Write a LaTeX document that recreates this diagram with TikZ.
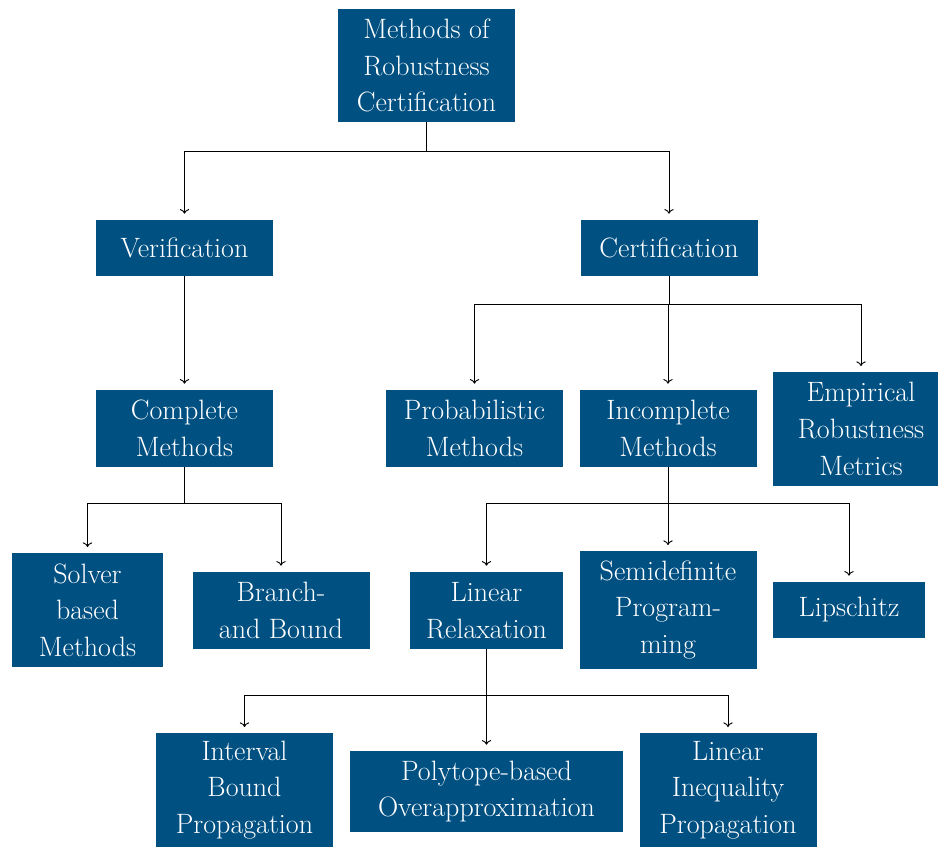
\documentclass[tikz,border=0pt]{standalone}
\usetikzlibrary{arrows.meta,positioning}

\definecolor{boxblue}{RGB}{0,80,130}

\begin{document}
\begin{tikzpicture}[
        x=0.75pt, y=-0.75pt,
        box/.style={fill=boxblue, text=white, align=center, inner sep=3pt,
            font={\fontsize{21}{27.5}\selectfont},
            minimum width=132.75pt, minimum height=42pt},
        twoline/.style={box, minimum height=57.75pt},
        threeline/.style={box, minimum height=85pt},
        fork/.style={-{To[length=3.5pt,width=7pt]}, line width=0.7pt, shorten >=4.5pt}
    ]
            \clip (0,0) rectangle (938,849);

            % levels of the tree
            \node[threeline] (root)       at (426.5,65.5) {Methods of\\Robustness\\Certification};
            \node[box]       (verif)      at (184.5,248)  {Verification};
            \node[box]       (cert)       at (669,248)    {Certification};
            \node[twoline]   (complete)   at (184.5,428.5){Complete\\Methods};
            \node[twoline]   (prob)       at (474.5,428.5){Probabilistic\\Methods};
            \node[twoline]   (incomplete) at (668,428.5)  {Incomplete\\Methods};
            \node[threeline] (empirical)  at (861,429)    {Empirical\\Robustness\\Metrics};
            \node[threeline, minimum width=113.25pt]
                             (solver)     at (87.5,610)   {Solver\\based\\Methods};
            \node[twoline]   (branch)     at (281,610.5)  {Branch-\\and Bound};
            \node[twoline, minimum width=114.75pt]
                             (linear)     at (486.5,610.5){Linear\\Relaxation};
            \node[threeline, minimum height=88pt]
                             (sdp)        at (668,610)    {Semidefinite\\Program-\\ming};
            \node[box, minimum width=114pt]
                             (lipschitz)  at (849,610)    {Lipschitz};
            \node[threeline] (ibp)        at (244.5,790)  {Interval\\Bound\\Propagation};
            \node[twoline, minimum width=204.75pt, minimum height=60.75pt]
                             (polytope)   at (486.5,791.5){Polytope-based\\Overapproximation};
            \node[threeline] (lip)        at (728,790)    {Linear\\Inequality\\Propagation};

            % connectors
            \foreach \c in {verif,cert}
                \draw[fork] (root.south) -- ++(0,29) -| (\c.north);
            \draw[fork]
                (verif.south) -- (complete.north)
            ;
            \foreach \c in {prob,incomplete,empirical}
                \draw[fork] (cert.south) -- ++(0,28) -| (\c.north);
            \foreach \c in {solver,branch}
                \draw[fork] (complete.south) -- ++(0,36) -| (\c.north);
            \foreach \c in {linear,sdp,lipschitz}
                \draw[fork] (incomplete.south) -- ++(0,36) -| (\c.north);
            \foreach \c in {ibp,polytope,lip}
                \draw[fork] (linear.south) -- ++(0,46) -| (\c.north);
        \end{tikzpicture}
\end{document}
